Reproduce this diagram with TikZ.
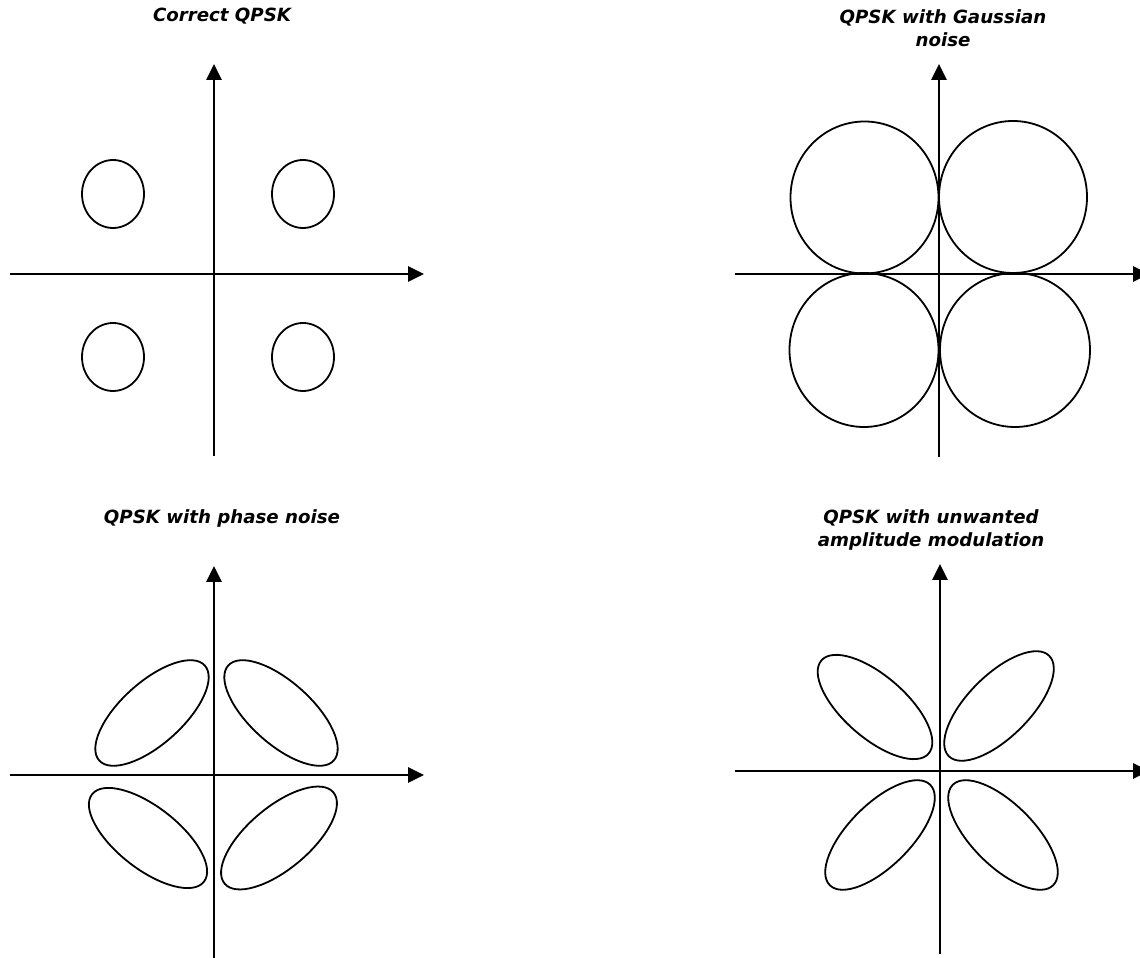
\documentclass[tikz,border=0pt]{standalone}
\usepackage{fontspec}
\setmainfont{DejaVu Sans}
\usetikzlibrary{arrows.meta}
\tikzset{
  axis/.style={line width=2.9pt, -{Triangle[length=16pt,width=15pt]}},
  blob/.style={line width=1.8pt},
  ttl/.style={font=\fontsize{18.2}{23}\selectfont\bfseries\itshape, align=center, inner sep=0pt}
}
\begin{document}
\begin{tikzpicture}[x=1pt,y=1pt]
\clip (0,0) rectangle (1140,958);
\fill[white] (0,0) rectangle (1140,958);
% ---------- titles ----------
\node[ttl] (t1) at (222,942) {Correct QPSK};
\node[ttl] (t2) at (943,929.5) {QPSK with Gaussian\\noise};
\node[ttl] (t3) at (222,440) {QPSK with phase noise};
\node[ttl] (t4) at (931,428) {QPSK with unwanted\\amplitude modulation};
% ---------- panel 1 ----------
\coordinate (a1l) at (10,684); \coordinate (a1r) at (424,684);
\coordinate (a1b) at (214,502); \coordinate (a1t) at (214,894);
\draw[axis] (a1l) -- (a1r);
\draw[axis] (a1b) -- (a1t);
\draw[blob] (113,764) ellipse [x radius=31, y radius=34];
\draw[blob] (303,764) ellipse [x radius=31, y radius=34];
\draw[blob] (113,601) ellipse [x radius=31, y radius=34];
\draw[blob] (303,601) ellipse [x radius=31, y radius=34];
% ---------- panel 2 ----------
\coordinate (a2l) at (735,684); \coordinate (a2r) at (1149,684);
\coordinate (a2b) at (939,501); \coordinate (a2t) at (939,894);
\draw[axis] (a2l) -- (a2r);
\draw[axis] (a2b) -- (a2t);
\draw[blob] (864.5,760.5) ellipse [x radius=74, y radius=76];
\draw[blob] (1013,761) ellipse [x radius=74, y radius=76];
\draw[blob] (864,608) ellipse [x radius=74.5, y radius=77];
\draw[blob] (1015,608) ellipse [x radius=75, y radius=77];
% ---------- panel 3 ----------
\coordinate (a3l) at (10,183); \coordinate (a3r) at (424,183);
\coordinate (a3b) at (214,-5); \coordinate (a3t) at (214,392);
\draw[axis] (a3l) -- (a3r);
\draw[axis] (a3b) -- (a3t);
\draw[blob, rotate around={42:(152,245)}] (152,245) ellipse [x radius=71, y radius=31];
\draw[blob, rotate around={-42:(281,245)}] (281,245) ellipse [x radius=71, y radius=31];
\draw[blob, rotate around={-38:(148,120)}] (148,120) ellipse [x radius=71, y radius=31];
\draw[blob, rotate around={40:(279,120)}] (279,120) ellipse [x radius=71, y radius=31];
% ---------- panel 4 ----------
\coordinate (a4l) at (735,187); \coordinate (a4r) at (1149,187);
\coordinate (a4b) at (940,4); \coordinate (a4t) at (940,394);
\draw[axis] (a4l) -- (a4r);
\draw[axis] (a4b) -- (a4t);
\draw[blob, rotate around={-41:(875,251)}] (875,251) ellipse [x radius=71, y radius=31];
\draw[blob, rotate around={45:(999,252)}] (999,252) ellipse [x radius=71, y radius=31];
\draw[blob, rotate around={45:(880,123)}] (880,123) ellipse [x radius=71, y radius=31];
\draw[blob, rotate around={-45:(1003,123)}] (1003,123) ellipse [x radius=71, y radius=31];
\end{tikzpicture}
\end{document}
